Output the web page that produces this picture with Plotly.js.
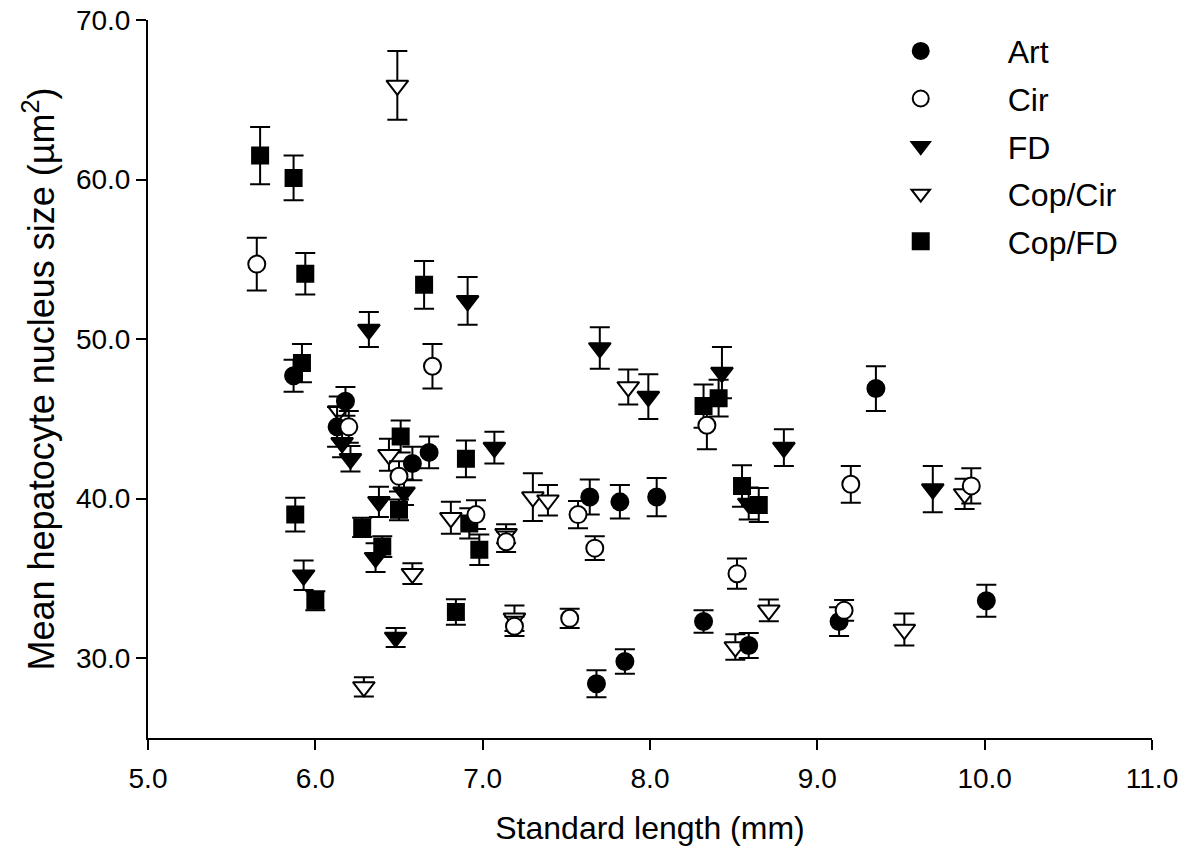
<!DOCTYPE html>
<html>
<head>
<meta charset="utf-8">
<script src="https://cdn.plot.ly/plotly-3.0.1.min.js"></script>
<style>html,body{margin:0;padding:0;background:#fff;}#chart{width:1189px;height:856px;}</style>
</head>
<body>
<div id="chart"></div>
<script>
// Art
var artX = [5.87, 6.13, 6.18, 6.58, 6.68, 7.64, 7.82, 8.04, 7.68, 7.85, 8.32, 8.59, 9.13, 9.35, 10.01];
var artY = [47.7, 44.5, 46.1, 42.2, 42.9, 40.1, 39.8, 40.1, 28.4, 29.8, 32.3, 30.8, 32.3, 46.9, 33.6];
var artE = [1.0, 1.25, 0.9, 1.05, 1.0, 1.1, 1.05, 1.2, 0.85, 0.77, 0.7, 0.78, 0.9, 1.4, 1.0];
// Cir
var cirX = [5.65, 6.20, 6.50, 6.70, 6.96, 7.14, 7.19, 7.52, 7.57, 7.67, 8.34, 8.52, 9.16, 9.20, 9.92];
var cirY = [54.7, 44.5, 41.4, 48.3, 39.0, 37.3, 32.0, 32.5, 39.0, 36.9, 44.6, 35.3, 33.0, 40.9, 40.8];
var cirE = [1.65, 1.0, 0.95, 1.4, 0.9, 0.65, 0.6, 0.6, 0.85, 0.75, 1.5, 0.95, 0.65, 1.15, 1.1];
// FD
var fdX = [5.93, 6.16, 6.21, 6.32, 6.36, 6.38, 6.48, 6.53, 6.91, 7.07, 7.70, 7.99, 8.43, 8.59, 8.80, 9.69];
var fdY = [35.2, 43.5, 42.5, 50.6, 36.3, 39.8, 31.3, 40.4, 52.4, 43.2, 49.45, 46.4, 47.9, 39.7, 43.2, 40.6];
var fdE = [0.92, 0.9, 0.8, 1.1, 0.9, 0.95, 0.6, 0.8, 1.5, 1.0, 1.3, 1.4, 1.6, 1.0, 1.15, 1.45];
// Cop/Cir
var ccX = [6.14, 6.29, 6.44, 6.49, 6.58, 6.81, 7.14, 7.19, 7.30, 7.39, 7.87, 8.51, 8.71, 9.52, 9.88];
var ccY = [45.5, 28.2, 42.75, 65.9, 35.3, 38.8, 37.8, 32.5, 40.1, 39.9, 47.0, 30.7, 33.0, 31.8, 40.3];
var ccE = [0.9, 0.6, 1.0, 2.15, 0.65, 1.0, 0.6, 0.8, 1.5, 0.95, 1.1, 0.8, 0.68, 1.0, 0.95];
// Cop/FD
var cfX = [5.67, 5.87, 5.88, 5.92, 5.94, 6.00, 6.28, 6.40, 6.50, 6.51, 6.65, 6.84, 6.90, 6.92, 6.98, 8.32, 8.41, 8.55, 8.65];
var cfY = [61.5, 60.1, 39.0, 48.5, 54.1, 33.6, 38.2, 37.0, 39.3, 43.9, 53.4, 32.9, 42.5, 38.45, 36.8, 45.8, 46.3, 40.8, 39.6];
var cfE = [1.8, 1.4, 1.05, 1.2, 1.3, 0.6, 0.6, 0.65, 0.65, 1.0, 1.5, 0.8, 1.15, 0.95, 0.95, 1.35, 1.15, 1.3, 1.07];

var names = ["Art", "Cir", "FD", "Cop/Cir", "Cop/FD"];
var xTicks = [5, 6, 7, 8, 9, 10, 11];
var xTickText = ["5.0", "6.0", "7.0", "8.0", "9.0", "10.0", "11.0"];
var yTicks = [30, 40, 50, 60, 70];
var yTickText = ["30.0", "40.0", "50.0", "60.0", "70.0"];

function mk(x, y, e, name, symbol, size, fill) {
  return {
    type: "scatter", mode: "markers", x: x, y: y, name: name, legendgroup: name,
    error_y: {type: "data", array: e, visible: true, color: "#000", thickness: 2, width: 10},
    marker: {symbol: symbol, size: size, color: fill, line: {color: "#000", width: 2}}
  };
}

var traces = [
  mk(cfX, cfY, cfE, names[4], "square", 16, "#000"),
  mk(fdX, fdY, fdE, names[2], "triangle-down", 19, "#000"),
  mk(ccX, ccY, ccE, names[3], "triangle-down", 19, "#fff"),
  mk(artX, artY, artE, names[0], "circle", 17, "#000"),
  mk(cirX, cirY, cirE, names[1], "circle", 17, "#fff")
];
traces[3].legendrank = 1; traces[4].legendrank = 2; traces[1].legendrank = 3; traces[2].legendrank = 4; traces[0].legendrank = 5;

var font = "Liberation Sans, Arial, sans-serif";
var layout = {
  width: 1189, height: 856,
  margin: {l: 148, r: 37, t: 20, b: 118},
  paper_bgcolor: "#fff", plot_bgcolor: "#fff",
  font: {family: font, color: "#000"},
  showlegend: true,
  legend: {x: 0.683, y: 0.995, xanchor: "left", yanchor: "top", bgcolor: "rgba(0,0,0,0)",
           font: {size: 32, family: font, color: "#000"}, traceorder: "grouped", tracegroupgap: 3, itemwidth: 164},
  xaxis: {
    range: [5, 11], showgrid: false, zeroline: false, showline: true, linecolor: "#000", linewidth: 2,
    ticks: "outside", ticklen: 10, tickwidth: 2, tickcolor: "#000", ticklabelstandoff: 4,
    tickvals: xTicks, ticktext: xTickText, tickfont: {size: 28, family: font},
    title: {text: "Standard length (mm)", font: {size: 32, family: font}, standoff: 24}
  },
  yaxis: {
    range: [25, 70], showgrid: false, zeroline: false, showline: true, linecolor: "#000", linewidth: 2,
    ticks: "outside", ticklen: 10, tickwidth: 2, tickcolor: "#000",
    tickvals: yTicks, ticktext: yTickText, tickfont: {size: 28, family: font},
    title: {text: "Mean hepatocyte nucleus size (µm<sup>2</sup>)", font: {size: 36, family: font}, standoff: 10}
  }
};
Plotly.newPlot("chart", traces, layout, {displayModeBar: false, staticPlot: true});
</script>
</body>
</html>
